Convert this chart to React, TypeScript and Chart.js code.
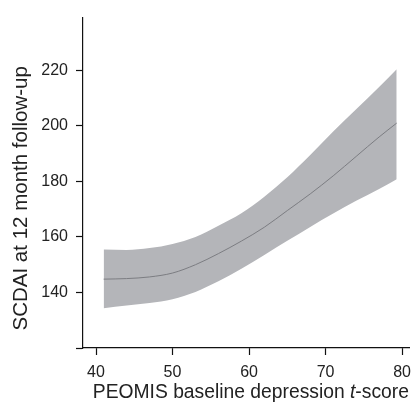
import React, { useEffect, useRef } from "react";
import { Chart, registerables } from "chart.js";

Chart.register(...registerables);

const xValues = [41, 44, 47, 50, 53, 56, 59, 62, 65, 68, 71, 74, 77, 79.3];
const meanValues = [144.8, 145, 145.6, 147, 150, 154, 158.5, 163.5, 169.5, 175.5, 182, 189, 196, 201];
const upperValues = [155.5, 155.3, 156, 157.5, 160, 164, 168.5, 174.5, 181.5, 189.5, 198, 206, 214, 220.4];
const lowerValues = [134.3, 135.3, 136.2, 137.6, 140.2, 144, 148.5, 153.5, 158.6, 163.6, 168.4, 173, 177.3, 180.8];
const xTicks = [40, 50, 60, 70, 80];
const yTicks = [120, 140, 160, 180, 200, 220];

const xTitleParts = ["PEOMIS baseline depression ", "t", "-score"];
const yTitle = "SCDAI at 12 month follow-up";

const FONT = "'Liberation Sans', Arial, Helvetica, sans-serif";
const TEXT = "#222";

const titlePlugin = {
  id: "customTitles",
  afterDraw(chart: any) {
    const ctx = chart.ctx as CanvasRenderingContext2D;
    const area = chart.chartArea;
    ctx.save();
    ctx.fillStyle = TEXT;
    ctx.textBaseline = "alphabetic";
    ctx.textAlign = "left";
    const size = 19.3;
    const normal = `${size}px ${FONT}`;
    const italic = `italic ${size}px ${FONT}`;
    const fonts = [normal, italic, normal];
    let total = 0;
    const widths = xTitleParts.map((p, i) => {
      ctx.font = fonts[i];
      const w = ctx.measureText(p).width;
      total += w;
      return w;
    });
    const cx = (area.left + area.right) / 2 + 4.5;
    let x = cx - total / 2;
    const baseY = chart.height - 5;
    xTitleParts.forEach((p, i) => {
      ctx.font = fonts[i];
      ctx.fillText(p, x, baseY);
      x += widths[i];
    });
    ctx.translate(27, (area.top + area.bottom) / 2 + 15.5);
    ctx.rotate(-Math.PI / 2);
    ctx.textAlign = "center";
    ctx.font = `20.5px ${FONT}`;
    ctx.fillText(yTitle, 0, 0);
    ctx.restore();
  },
};

export default function App() {
  const ref = useRef<HTMLCanvasElement>(null);
  useEffect(() => {
    document.body.style.margin = "0";
    const pts = (ys: number[]) => xValues.map((x, i) => ({ x, y: ys[i] }));
    const chart = new Chart(ref.current!, {
      type: "line",
      data: {
        datasets: [
          {
            data: pts(meanValues),
            borderWidth: 1,
            borderColor: "#7c7d82",
            pointRadius: 0,
            fill: false,
            order: 0,
            cubicInterpolationMode: "monotone",
          },
          {
            data: pts(upperValues),
            borderWidth: 0,
            pointRadius: 0,
            backgroundColor: "#b4b5b9",
            fill: "+1",
            order: 1,
            cubicInterpolationMode: "monotone",
          },
          {
            data: pts(lowerValues),
            borderWidth: 0,
            pointRadius: 0,
            backgroundColor: "#b4b5b9",
            fill: false,
            order: 2,
            cubicInterpolationMode: "monotone",
          },
        ],
      },
      options: {
        animation: false,
        responsive: false,
        events: [],
        layout: { padding: { top: 12, right: 2, left: 0, bottom: 0 } },
        plugins: { legend: { display: false }, tooltip: { enabled: false } },
        scales: {
          x: {
            type: "linear",
            min: 38.3,
            max: 81,
            afterBuildTicks: (axis: any) => {
              axis.ticks = xTicks.map((v) => ({ value: v }));
            },
            afterFit: (scale: any) => {
              scale.height = 55;
            },
            border: { display: true, color: "#111", width: 1.2 },
            grid: { drawOnChartArea: false, drawTicks: true, tickLength: 7, color: "#111", tickWidth: 1.2 },
            ticks: { padding: 8, color: TEXT, font: { family: FONT, size: 16 }, maxRotation: 0 },
          },
          y: {
            type: "linear",
            min: 120,
            max: 239,
            afterBuildTicks: (axis: any) => {
              axis.ticks = yTicks.map((v) => ({ value: v }));
            },
            afterFit: (scale: any) => {
              scale.width = 83;
            },
            border: { display: true, color: "#111", width: 1.2 },
            grid: { drawOnChartArea: false, drawTicks: true, tickLength: 7, color: "#111", tickWidth: 1.2 },
            ticks: {
              padding: 8,
              color: TEXT,
              font: { family: FONT, size: 16 },
              callback: (v: any) => (v === 120 ? "" : String(v)),
            },
          },
        },
      },
      plugins: [titlePlugin],
    });
    return () => chart.destroy();
  }, []);
  return (
    <div style={{ position: "absolute", left: 0, top: 0, width: 419, height: 403 }}>
      <canvas ref={ref} width={419} height={403} style={{ width: 419, height: 403 }} />
    </div>
  );
}
